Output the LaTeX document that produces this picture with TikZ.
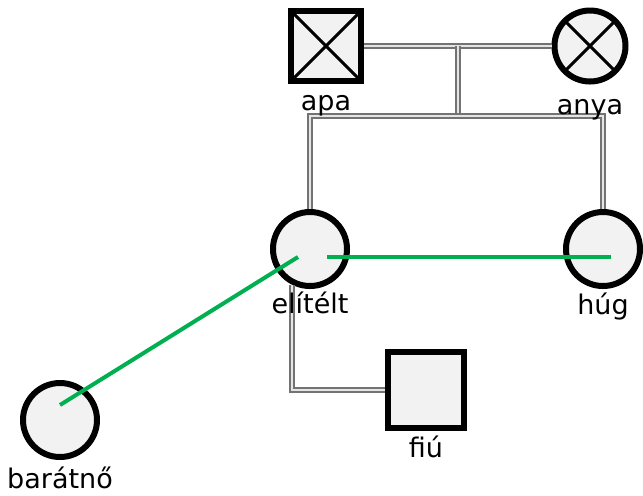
\documentclass[tikz,border=0pt]{standalone}
\usepackage{fontspec}
\setmainfont{DejaVu Sans}
\usetikzlibrary{positioning,calc}

\definecolor{tiegreen}{HTML}{00B050}
\tikzset{
  person/.style={draw, line width=3pt, fill=gray!10, inner sep=0pt},
  male/.style={person, rectangle, minimum size=#1},
  female/.style={person, circle, minimum size=#1},
  txt/.style={inner sep=0pt, font=\fontsize{13.5}{15}\selectfont},
  rel/.style={draw=gray!90!black, double=gray!20, double distance=1pt, line width=0.9pt},
  tie/.style={draw=tiegreen, line width=2pt},
  dead/.style={line width=1.5pt, shorten >=1.2pt, shorten <=1.2pt},
}

\begin{document}
\begin{tikzpicture}[x=0.5pt, y=-0.5pt]
    \useasboundingbox (0,0) rectangle (643,495);
    % persons
    \node[male=35pt]   (apa)     at (326,46)  {};
    \node[female=35.5pt] (anya)  at (590,46)  {};
    \node[female=37pt] (elitelt) at (310,249) {};
    \node[female=37pt] (hug)     at (603,249) {};
    \node[male=38pt]   (fiu)     at (426,390) {};
    \node[female=37pt] (baratno) at (60,420)  {};
    % deceased
    \draw[dead] (apa.north west) -- (apa.south east);
    \draw[dead] (apa.north east) -- (apa.south west);
    \draw[dead] (anya.north west) -- (anya.south east);
    \draw[dead] (anya.north east) -- (anya.south west);
    % family lines
    \coordinate (wed) at ($(apa.east)!0.5!(anya.west)$);
    \coordinate (sib) at ([yshift=-35pt]wed);
    \draw[rel] (apa.east) -- (anya.west);
    \draw[rel] (wed) -- (sib);
    \draw[rel] (elitelt.north) |- (sib) -| (hug.north);
    \draw[rel] (elitelt.243) |- (fiu.west);
    % names
    \node[txt, below=5.5pt of apa]     (apaL)     {apa};
    \node[txt, below=7pt of anya]      (anyaL)    {anya};
    \node[txt, below=1pt of elitelt]   (eliteltL) {elítélt};
    \node[txt, below=1.5pt of hug]     (hugL)     {húg};
    \node[txt, below=2pt of fiu]       (fiuL)     {fiú};
    \node[txt, below=3pt of baratno]   (baratnoL) {barátnő};
    % ties
    \draw[tie]
      ([shift={(-6pt,-4pt)}]elitelt.center) -- ([yshift=7.5pt]baratno.center);
    \draw[tie]
      ([shift={(8.5pt,-4pt)}]elitelt.center) -- ([shift={(4pt,-4pt)}]hug.center);
\end{tikzpicture}
\end{document}
